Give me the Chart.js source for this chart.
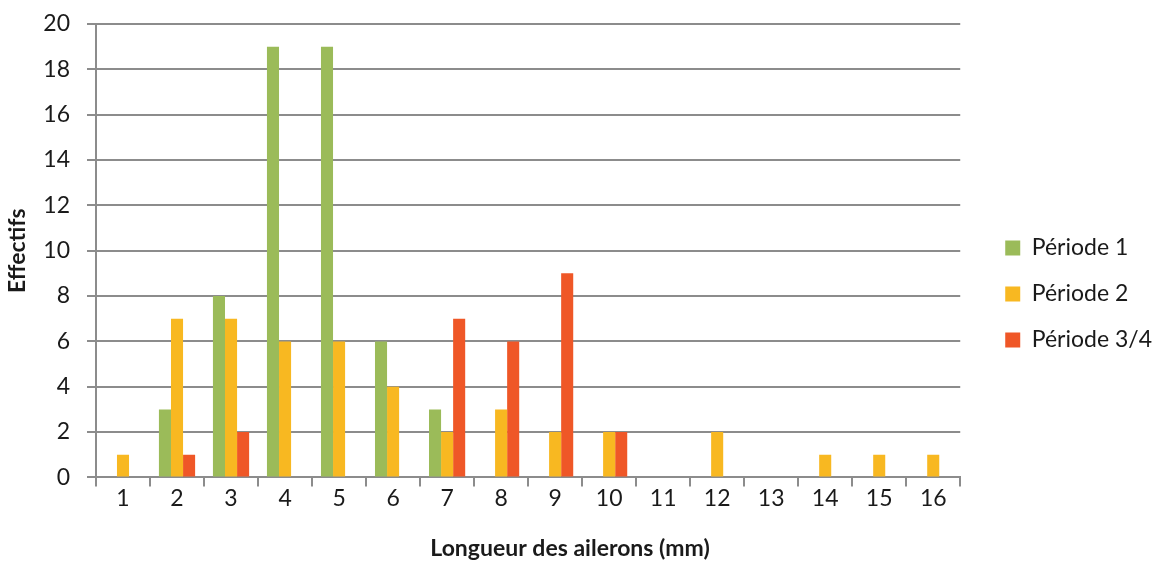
<!DOCTYPE html>
<html>
<head>
<meta charset="utf-8">
<script src="https://cdn.jsdelivr.net/npm/chart.js@4/dist/chart.umd.min.js"></script>
<style>
html,body{margin:0;padding:0;background:#fff;}
#wrap{width:1157px;height:564px;}
</style>
</head>
<body>
<div id="wrap"><canvas id="c" width="1157" height="564"></canvas></div>
<script>
const categories = ["1","2","3","4","5","6","7","8","9","10","11","12","13","14","15","16"];
const periode1 = [0,3,8,19,19,6,3,0,0,0,0,0,0,0,0,0];
const periode2 = [1,7,7,6,6,4,2,3,2,2,0,2,0,1,1,1];
const periode34 = [0,1,2,0,0,0,7,6,9,2,0,0,0,0,0,0];
const seriesNames = ["Période 1","Période 2","Période 3/4"];
const yTicks = [0,2,4,6,8,10,12,14,16,18,20];

const FONT = "Lato, 'Open Sans', sans-serif";
const colors = ["#9BBB59","#F8B821","#EF5727"];
const TXT = '#1a1a1a';
const FS = 23;

const legendShift = {
  id: 'legendShift',
  afterLayout(chart) {
    const lg = chart.legend;
    if (lg) { lg.left += 22; lg.right += 22; }
  }
};

new Chart(document.getElementById('c'), {
  type: 'bar',
  data: {
    labels: categories,
    datasets: [
      {label: seriesNames[0], data: periode1, backgroundColor: colors[0]},
      {label: seriesNames[1], data: periode2, backgroundColor: colors[1]},
      {label: seriesNames[2], data: periode34, backgroundColor: colors[2]}
    ]
  },
  plugins: [legendShift],
  options: {
    responsive: false,
    animation: false,
    devicePixelRatio: 1,
    layout: {padding: {top: 24, right: 17, left: 0, bottom: 0}},
    datasets: {bar: {categoryPercentage: 0.67, barPercentage: 1.0}},
    plugins: {
      legend: {
        position: 'right',
        labels: {
          font: {family: FONT, size: FS},
          color: TXT,
          boxWidth: 15, boxHeight: 15,
          padding: 23
        }
      },
      title: {
        display: true,
        position: 'bottom',
        text: 'Longueur des ailerons (mm)',
        font: {family: FONT, size: FS, weight: 'bold'},
        color: TXT,
        padding: {top: 0, bottom: 2}
      },
      tooltip: {enabled: false}
    },
    scales: {
      x: {
        offset: true,
        afterFit: (s) => { s.height = 57; },
        grid: {display: true, drawOnChartArea: false, offset: true, tickLength: 9, color: '#8c8c8c', lineWidth: 2},
        border: {display: true, color: '#8c8c8c', width: 2},
        ticks: {font: {family: FONT, size: FS}, color: TXT, padding: -2}
      },
      y: {
        min: 0, max: 20,
        afterFit: (s) => { s.width = 96; s.paddingTop = 0; s.paddingBottom = 0; },
        afterBuildTicks: (axis) => { axis.ticks = yTicks.map(v => ({value: v})); },
        grid: {color: '#8c8c8c', lineWidth: 2, tickLength: 9},
        border: {display: true, color: '#8c8c8c', width: 2},
        ticks: {font: {family: FONT, size: FS}, color: TXT, padding: 17},
        title: {display: true, text: 'Effectifs', font: {family: FONT, size: FS, weight: 'bold'}, color: TXT, padding: {bottom: 8}}
      }
    }
  }
});
</script>
</body>
</html>
